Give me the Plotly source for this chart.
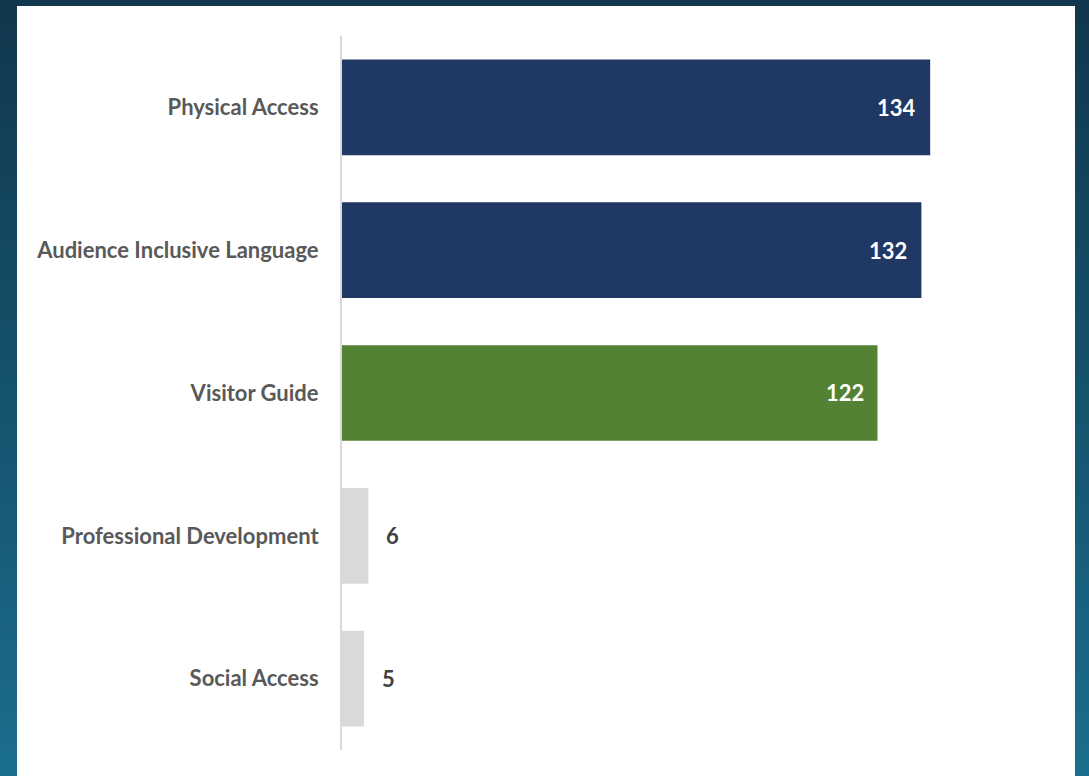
import plotly.graph_objects as go

categories = ["Physical Access", "Audience Inclusive Language", "Visitor Guide",
              "Professional Development", "Social Access"]
values = [134, 132, 122, 6, 5]
bar_colors = ["#203864", "#203864", "#548235", "#d9d9d9", "#d9d9d9"]
label_inside = [True, True, True, False, False]

W, H = 1089, 776
FONT = "Lato, Open Sans, sans-serif"
fig = go.Figure()
fig.add_trace(go.Bar(
    y=categories, x=values, orientation="h",
    marker=dict(color=bar_colors, line=dict(width=0)),
    width=0.67, hoverinfo="skip",
))

for c, v, ins in zip(categories, values, label_inside):
    fig.add_annotation(
        x=v, y=c, xref="x", yref="y", text=f"<b>{v}</b>", showarrow=False,
        xanchor="right" if ins else "left", xshift=-12 if ins else 16,
        font=dict(family=FONT, size=22,
                  color="#ffffff" if ins else "#404040"),
    )

# gradient background via stepped rectangles
shapes = []
n = 60
top = (17, 56, 78)
bot = (27, 110, 141)
for i in range(n):
    t = i / (n - 1)
    r = int(top[0] + (bot[0] - top[0]) * t)
    g = int(top[1] + (bot[1] - top[1]) * t)
    b = int(top[2] + (bot[2] - top[2]) * t)
    y1 = 1 - i / n
    y0 = 1 - (i + 1) / n
    shapes.append(dict(type="rect", xref="paper", yref="paper", x0=0, x1=1,
                       y0=y0 - 0.002, y1=y1, fillcolor=f"rgb({r},{g},{b})",
                       line=dict(width=0), layer="below"))
shapes.append(dict(type="rect", xref="paper", yref="paper",
                   x0=17 / W, x1=1075 / W, y0=-0.01, y1=(H - 6) / H,
                   fillcolor="#ffffff", line=dict(width=0), layer="below"))

fig.update_layout(
    width=W, height=H,
    margin=dict(l=0, r=0, t=0, b=0),
    paper_bgcolor="#ffffff", plot_bgcolor="rgba(0,0,0,0)",
    shapes=shapes, showlegend=False,
    xaxis=dict(domain=[342 / W, 1050 / W], range=[0, 161.3], visible=False,
               fixedrange=True),
    yaxis=dict(domain=[(H - 750) / H, (H - 36) / H], autorange="reversed",
               showline=True, linecolor="#d9d9d9", linewidth=2,
               showgrid=False, ticks="", ticklabelstandoff=17,
               tickfont=dict(family=FONT, size=22,
                             color="#595959", weight="bold")),
    font=dict(family=FONT),
)

fig.write_html("out.html", config={"displayModeBar": False, "staticPlot": True},
               post_script="document.body.style.margin='0';document.body.style.overflow='hidden';")
